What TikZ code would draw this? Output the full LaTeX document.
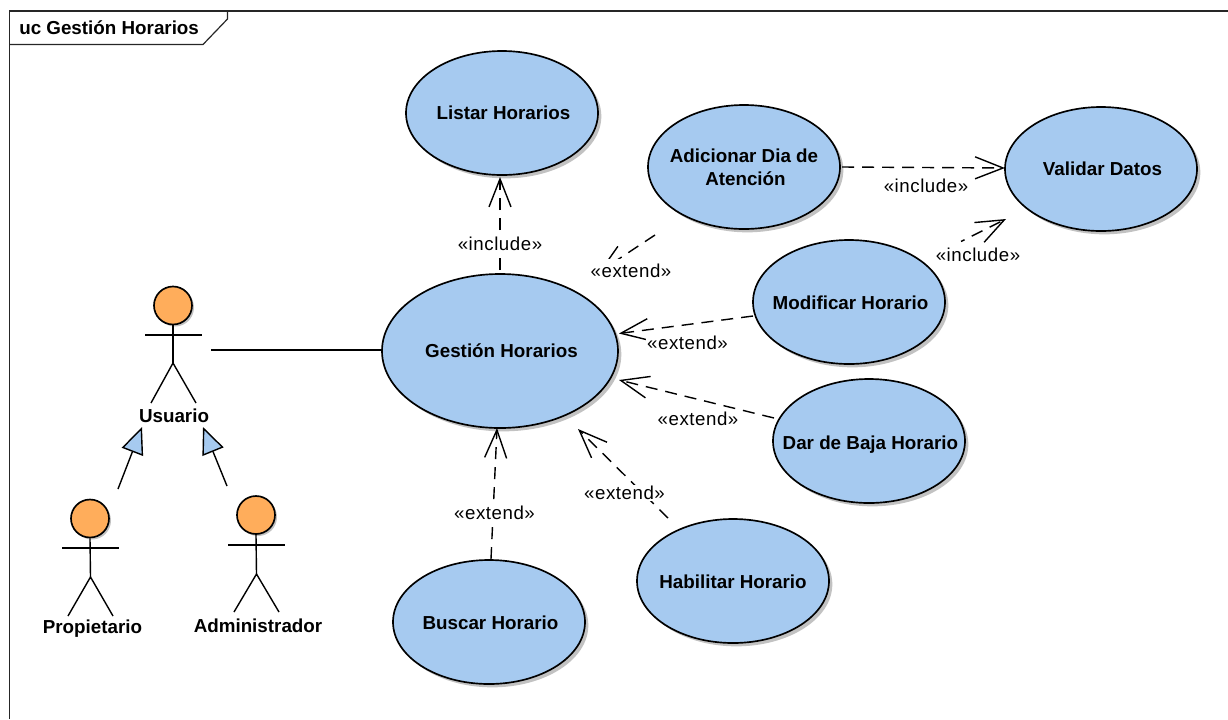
\documentclass[tikz,border=0pt]{standalone}
\usepackage{fontspec}
\setmainfont{Liberation Sans}
\newfontfamily\stereofont[LetterSpace=3]{Liberation Sans}
\usetikzlibrary{arrows.meta,shadows,shapes.geometric}
\definecolor{ucblue}{RGB}{166,202,240}
\definecolor{actorfill}{RGB}{255,173,91}
\newcommand{\ucl}[1]{\makebox[0pt][c]{\hspace{2.2pt}#1}}
\tikzset{
  x=0.75pt,y=-0.75pt,
  every node/.style={font=\fontsize{14.1pt}{17.5pt}\selectfont},
  usecase/.style={ellipse,draw=black,line width=1.25pt,fill=ucblue,minimum width=192*0.75pt,minimum height=124*0.75pt,inner sep=0pt,align=center,text height=10pt,text depth=0pt,font=\fontsize{14.1pt}{17.5pt}\selectfont\bfseries,drop shadow={shadow xshift=2.5pt,shadow yshift=-2.5pt,fill=black!40,opacity=.6}},
  biguse/.style={usecase,minimum width=236*0.75pt,minimum height=154*0.75pt},
  dep/.style={line width=1.05pt,dash pattern=on 9pt off 6pt,-{Straight Barb[length=21pt,width=16.5pt,line width=1.05pt]}},
  stereo/.style={fill=white,inner sep=0.5pt,font=\fontsize{14pt}{16pt}\stereofont},
  actorname/.style={font=\fontsize{14.1pt}{17.5pt}\selectfont\bfseries},
  limb/.style={line width=1.05pt},
  head/.style={circle,draw=black,line width=1.25pt,fill=actorfill,minimum size=38*0.75pt,inner sep=0pt,drop shadow={shadow xshift=1.5pt,shadow yshift=-1.5pt,fill=black!40,opacity=.6}},
  genline/.style={line width=1.05pt,-{Triangle[open,length=20pt,width=17pt,fill=ucblue,line width=1.05pt]}},
  frameline/.style={line width=0.9pt,draw=black!85},
}
\begin{document}
\begin{tikzpicture}
\useasboundingbox (0,0) rectangle (1228,719);
\draw[frameline] (9.5,719) -- (9.5,11) -- (1228,11);
\draw[frameline] (9.5,44.5) -- (203,44.5) -- (227.5,19) -- (227.5,11);
\node[anchor=west,inner sep=0pt,font=\fontsize{14.1pt}{17.5pt}\selectfont\bfseries] (title) at (19,28) {uc Gestión Horarios};

% dependencies that pass behind the use cases come first
\coordinate (d4s) at (961,241.5);\coordinate (d4e) at (1006,219);
\draw[dep,dash phase=6pt] (d4s) -- (d4e);

\node[usecase] (listar) at (502,113) {\ucl{Listar Horarios}};
\node[usecase,text height=27.5pt] (adic) at (744,167) {\makebox[0pt][c]{Adicionar Dia de}\\\ucl{Atención}};
\node[usecase] (valid) at (1101,169) {\ucl{Validar Datos}};
\node[usecase,text height=11.5pt] (modif) at (849,302) {\ucl{Modificar Horario}};
\node[usecase,text height=13pt] (baja) at (869,441) {\ucl{Dar de Baja Horario}};
\node[usecase,text height=11.5pt] (habil) at (733,581) {\makebox[0pt][c]{Habilitar Horario}};
\node[usecase,text height=11.5pt] (busc) at (489,622) {\ucl{Buscar Horario}};
\node[biguse] (gest) at (500,351) {\ucl{Gestión Horarios}};

% actors
\node[head] (h1) at (173,305.5) {};
\coordinate (w1) at (173,363);
\draw[limb] (h1.south) -- (w1);
\draw[limb] (145,335) -- (202,335);
\draw[limb] (151,403) -- (w1) -- (196,403);
\node[actorname] (usuario) at (174,416) {Usuario};

\node[head] (h2) at (90,518.5) {};
\coordinate (w2) at (90.5,577);
\draw[limb] (h2.south) -- (w2);
\draw[limb] (62,548) -- (119,548);
\draw[limb] (68,616) -- (w2) -- (113,616);
\node[actorname] (prop) at (92.5,629) {Propietario};

\node[head] (h3) at (256,515) {};
\coordinate (w3) at (256.5,574);
\draw[limb] (h3.south) -- (w3);
\draw[limb] (228,545) -- (285,545);
\draw[limb] (234,612) -- (w3) -- (279,612);
\node[actorname] (admin) at (258,626) {Administrador};

% association
\coordinate (a1) at (211,350);
\draw[line width=1.1pt] (a1) -- (a1 -| gest.west);

% generalisations
\coordinate (g1s) at (118,489);
\coordinate (g1e) at (142,427);
\coordinate (g2s) at (227,486);
\coordinate (g2e) at (203,427);
\draw[genline] (g1s) -- (g1e);
\draw[genline] (g2s) -- (g2e);

% dependencies
\coordinate (d1s) at (500,270);\coordinate (d1e) at (500,177);
\draw[dep] (d1s) -- (d1e);
\node[stereo] at (500,244) {«include»};

\coordinate (d2s) at (655,235);\coordinate (d2e) at (599,272);
\draw[dep] (d2s) -- (d2e);
\node[stereo,minimum height=18pt,minimum width=62pt] at (631,271) {«extend»};

\coordinate (d3s) at (842,167);\coordinate (d3e) at (1005,168);
\draw[dep] (d3s) -- (d3e);
\node[stereo] at (926,186) {«include»};

\node[stereo] at (978,255) {«include»};

\coordinate (d5s) at (753,316);\coordinate (d5e) at (619,333.5);
\draw[dep] (d5s) -- (d5e);
\node[stereo] at (687.5,343) {«extend»};

\coordinate (d6s) at (774,418);\coordinate (d6e) at (619,380);
\draw[dep] (d6s) -- (d6e);
\node[stereo] at (698,419) {«extend»};

\coordinate (d7s) at (668,518);\coordinate (d7e) at (578,429);
\draw[dep] (d7s) -- (d7e);
\node[stereo] at (624.5,493) {«extend»};

\coordinate (d8s) at (491,559);\coordinate (d8e) at (497,428);
\draw[dep] (d8s) -- (d8e);
\node[stereo] at (494.5,513) {«extend»};
\end{tikzpicture}
\end{document}
